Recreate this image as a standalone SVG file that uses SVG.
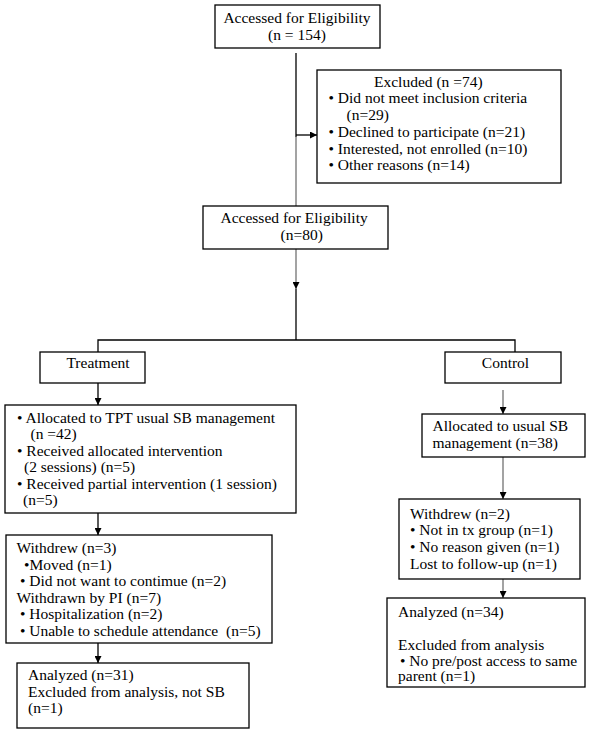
<svg xmlns="http://www.w3.org/2000/svg" width="601" height="734" viewBox="0 0 601 734">
<style>
.b{fill:#fff;stroke:#000;stroke-width:1.3}
text{font-family:'Liberation Serif','Times New Roman',Times,'DejaVu Serif',serif;font-size:15.5px;fill:#000}
.k{stroke:#000;stroke-width:1.3;fill:none}
.g{stroke:#8c8c8c;stroke-width:1.6;fill:none}
</style>
<defs>
<marker id="a" viewBox="0 0 10 10" refX="10" refY="5" markerWidth="7" markerHeight="7" markerUnits="userSpaceOnUse" orient="auto"><path d="M0,0 L10,5 L0,10 z" fill="#000"/></marker>
</defs>
<rect width="601" height="734" fill="#fff"/>
<g id="connectors">
<line class="k" x1="296" y1="53" x2="296" y2="137"/>
<line class="g" x1="296" y1="137" x2="296" y2="206"/>
<line class="k" x1="296" y1="135" x2="317" y2="135" marker-end="url(#a)"/>
<line class="g" x1="296" y1="249" x2="296" y2="289" marker-end="url(#a)"/>
<line class="k" x1="296" y1="289" x2="296" y2="340"/>
<polyline class="k" points="98,352 98,340 515,340 515,352"/>
<line class="k" x1="98" y1="383" x2="98" y2="405" marker-end="url(#a)"/>
<line class="g" x1="503" y1="390" x2="503" y2="414" marker-end="url(#a)"/>
<line class="k" x1="98" y1="513" x2="98" y2="535" marker-end="url(#a)"/>
<line class="k" x1="98" y1="643" x2="98" y2="663" marker-end="url(#a)"/>
<line class="g" x1="503" y1="457" x2="503" y2="499" marker-end="url(#a)"/>
<line class="g" x1="503" y1="579" x2="503" y2="598" marker-end="url(#a)"/>
</g>
<g font-family="Liberation Serif, Times New Roman, serif" font-size="15.5">
<g id="eligibility1">
<rect class="b" x="215" y="5" width="165" height="43"/>
<text x="297" y="23" text-anchor="middle">Accessed for Eligibility</text>
<text x="297" y="40" text-anchor="middle">(n = 154)</text>
</g>
<g id="excluded">
<rect class="b" x="317" y="70" width="244" height="113"/>
<text x="374" y="87">Excluded (n =74)</text>
<text x="328.5" y="103">• Did not meet inclusion criteria</text>
<text x="346.5" y="119.5">(n=29)</text>
<text x="328.5" y="137">• Declined to participate (n=21)</text>
<text x="328.5" y="153.5">• Interested, not enrolled (n=10)</text>
<text x="328.5" y="170">• Other reasons (n=14)</text>
</g>
<g id="eligibility2">
<rect class="b" x="203" y="206" width="185" height="43"/>
<text x="220.5" y="223">Accessed for Eligibility</text>
<text x="280.5" y="239.5">(n=80)</text>
</g>
<g id="treatment">
<rect class="b" x="40" y="352" width="105" height="31"/>
<text x="98" y="367.5" text-anchor="middle">Treatment</text>
</g>
<g id="control">
<rect class="b" x="445" y="352" width="116" height="31"/>
<text x="505.5" y="367.5" text-anchor="middle">Control</text>
</g>
<g id="t-allocated">
<rect class="b" x="5" y="405" width="291" height="108"/>
<text x="17" y="422.5">• Allocated to TPT usual SB management</text>
<text x="30.5" y="438.5">(n =42)</text>
<text x="17" y="455.5">• Received allocated intervention</text>
<text x="24" y="471.5">(2 sessions) (n=5)</text>
<text x="17" y="488.5">• Received partial intervention (1 session)</text>
<text x="23" y="504.5">(n=5)</text>
</g>
<g id="t-withdrew">
<rect class="b" x="6" y="535" width="266" height="108"/>
<text x="16.5" y="553">Withdrew (n=3)</text>
<text x="24" y="569.5">•Moved (n=1)</text>
<text x="20" y="586">• Did not want to contimue (n=2)</text>
<text x="16.5" y="602.5">Withdrawn by PI (n=7)</text>
<text x="20" y="619">• Hospitalization (n=2)</text>
<text x="20" y="635.5" xml:space="preserve">• Unable to schedule attendance  (n=5)</text>
</g>
<g id="t-analyzed">
<rect class="b" x="17" y="663" width="232" height="65"/>
<text x="28" y="679.5">Analyzed (n=31)</text>
<text x="28" y="696.5">Excluded from analysis, not SB</text>
<text x="28" y="713">(n=1)</text>
</g>
<g id="c-allocated">
<rect class="b" x="422" y="414" width="163" height="43"/>
<text x="432.5" y="431">Allocated to usual SB</text>
<text x="432.5" y="448">management (n=38)</text>
</g>
<g id="c-withdrew">
<rect class="b" x="399" y="499" width="181" height="80"/>
<text x="410" y="518.5">Withdrew (n=2)</text>
<text x="410" y="535">• Not in tx group (n=1)</text>
<text x="410" y="552">• No reason given (n=1)</text>
<text x="410" y="568.5">Lost to follow-up (n=1)</text>
</g>
<g id="c-analyzed">
<rect class="b" x="387" y="598" width="198" height="89"/>
<text x="398" y="617">Analyzed (n=34)</text>
<text x="398" y="650">Excluded from analysis</text>
<text x="400" y="665.5">• No pre/post access to same</text>
<text x="398" y="681">parent (n=1)</text>
</g>
</g>
</svg>
